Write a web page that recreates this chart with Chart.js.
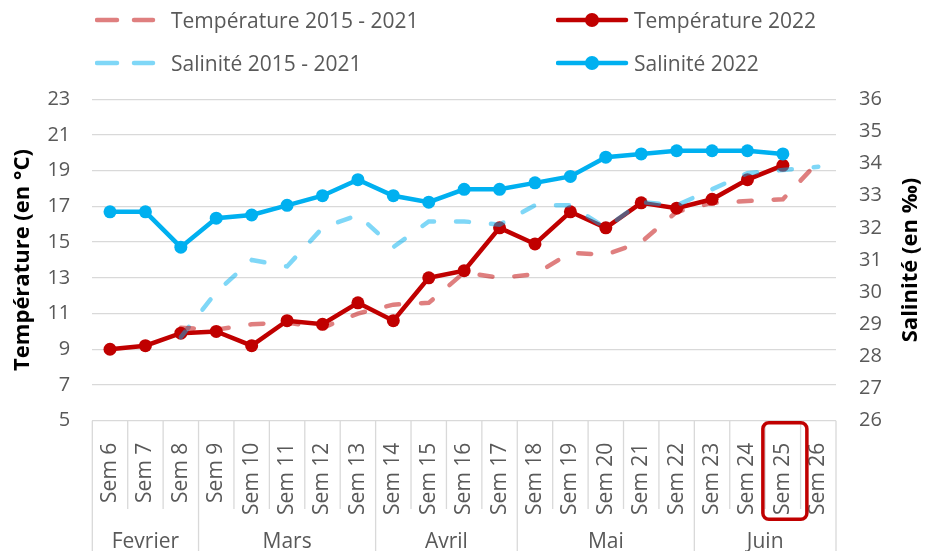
<!DOCTYPE html>
<html>
<head>
<meta charset="utf-8">
<script src="https://cdn.jsdelivr.net/npm/chart.js@4.4.0/dist/chart.umd.min.js"></script>
<style>
    html, body { margin: 0; padding: 0; background: #fff; }
    #wrap { position: relative; width: 934px; height: 551px; overflow: hidden; font-family: "Open Sans", sans-serif; }
    #box { position: absolute; left: 0; top: 0; width: 934px; height: 551px; }
    .item { position: absolute; display: flex; align-items: center; height: 30px; color: #595959; font-size: 21px; white-space: nowrap; }
</style>
</head>
<body>
<div id="wrap">
    <div id="box"><canvas id="chart"></canvas></div>
    <div id="legend"></div>
</div>
<script>
// Weeks and month groups
const weeks = ['Sem 6', 'Sem 7', 'Sem 8', 'Sem 9', 'Sem 10', 'Sem 11', 'Sem 12', 'Sem 13', 'Sem 14', 'Sem 15',
    'Sem 16', 'Sem 17', 'Sem 18', 'Sem 19', 'Sem 20', 'Sem 21', 'Sem 22', 'Sem 23', 'Sem 24', 'Sem 25', 'Sem 26'];
const months = ['Fevrier', 'Mars', 'Avril', 'Mai', 'Juin'];
const monthSpans = [3, 5, 4, 5, 4];
const highlightWeek = 'Sem 25';

// Series values
const temp2022 = [9.0, 9.2, 9.9, 10.0, 9.2, 10.6, 10.4, 11.6, 10.6, 13.0, 13.4, 15.8, 14.9, 16.7, 15.8, 17.2, 16.9, 17.4, 18.5, 19.3, null];
const sal2022 = [32.5, 32.5, 31.4, 32.3, 32.4, 32.7, 33.0, 33.5, 33.0, 32.8, 33.2, 33.2, 33.4, 33.6, 34.2, 34.3, 34.4, 34.4, 34.4, 34.3, null];
const tempRef = [null, null, 10.2, 10.1, 10.4, 10.5, 10.2, 11.0, 11.5, 11.6, 13.3, 13.0, 13.2, 14.4, 14.3, 15.0, 16.7, 17.2, 17.3, 17.4, 19.5];
const salRef = [null, null, 28.6, 30.0, 31.0, 30.8, 32.0, 32.4, 31.4, 32.2, 32.2, 32.1, 32.7, 32.7, 32.0, 32.8, 32.7, 33.2, 33.7, 33.8, 33.9];

// Axis ranges
const tempMin = 5, tempMax = 23, tempStep = 2;
const salMin = 26, salMax = 36, salStep = 1;

const RED = '#c00000';
const BLUE = '#00b0f0';
const RED_FADED = 'rgba(192, 0, 0, 0.5)';
const BLUE_FADED = 'rgba(0, 176, 240, 0.5)';
const GRID = '#d9d9d9';
const TEXT = '#595959';
const FONT = '"Open Sans", sans-serif';

const datasets = [
    {
        label: 'Température 2015 - 2021', data: tempRef, yAxisID: 'yT', order: 0,
        borderColor: RED_FADED, borderWidth: 4.5, borderDash: [13, 22], borderCapStyle: 'round',
        pointRadius: 0, tension: 0
    },
    {
        label: 'Salinité 2015 - 2021', data: salRef, yAxisID: 'yS', order: 0,
        borderColor: BLUE_FADED, borderWidth: 4.5, borderDash: [13, 22], borderCapStyle: 'round',
        pointRadius: 0, tension: 0
    },
    {
        label: 'Température 2022', data: temp2022, yAxisID: 'yT', order: 2,
        borderColor: RED, backgroundColor: RED, borderWidth: 4.5,
        pointRadius: 6.5, pointBorderWidth: 0, pointBackgroundColor: RED, tension: 0
    },
    {
        label: 'Salinité 2022', data: sal2022, yAxisID: 'yS', order: 1,
        borderColor: BLUE, backgroundColor: BLUE, borderWidth: 4.5,
        pointRadius: 6.5, pointBorderWidth: 0, pointBackgroundColor: BLUE, tension: 0
    }
];

// Category box under the plot, month groups, highlight and right title
const boxPlugin = {
    id: 'categoryBox',
    afterDraw(chart) {
        const ctx = chart.ctx;
        const x = chart.scales.x;
        const top = chart.chartArea.bottom;
        const w = x.getPixelForValue(1) - x.getPixelForValue(0);
        const left = x.getPixelForValue(0) - w / 2;

        const bounds = [0];
        monthSpans.reduce((acc, n) => { bounds.push(acc + n); return acc + n; }, 0);

        ctx.save();
        ctx.strokeStyle = GRID;
        ctx.lineWidth = 1.3;
        for (let k = 0; k <= weeks.length; k++) {
            const px = left + k * w;
            ctx.beginPath();
            ctx.moveTo(px, top);
            ctx.lineTo(px, bounds.includes(k) ? chart.height : top + 88.3);
            ctx.stroke();
        }

        // Month labels
        ctx.fillStyle = TEXT;
        ctx.font = '21px ' + FONT;
        ctx.textAlign = 'center';
        ctx.textBaseline = 'alphabetic';
        months.forEach((m, i) => {
            const cx = left + (bounds[i] + bounds[i + 1]) / 2 * w;
            ctx.fillText(m, cx, 547.5);
        });

        // Highlighted week
        const hi = weeks.indexOf(highlightWeek);
        const hx = x.getPixelForValue(hi);
        ctx.strokeStyle = RED;
        ctx.lineWidth = 3.5;
        ctx.beginPath();
        ctx.roundRect(hx - 20, top + 2, 44, 96.6, 6);
        ctx.stroke();

        // Right axis title, reading bottom to top
        ctx.fillStyle = '#000';
        ctx.font = 'bold 22px ' + FONT;
        ctx.translate(911, (chart.chartArea.top + chart.chartArea.bottom) / 2);
        ctx.rotate(-Math.PI / 2);
        ctx.textBaseline = 'middle';
        ctx.fillText('Salinité (en ‰)', 0, 0);
        ctx.restore();
    }
};

const ctx = document.getElementById('chart').getContext('2d');
const chart = new Chart(ctx, {
    type: 'line',
    data: { labels: weeks, datasets: datasets },
    options: {
        responsive: true,
        maintainAspectRatio: false,
        animation: false,
        layout: { padding: { top: 99.3, left: 0, right: 0, bottom: 0 } },
        plugins: { legend: { display: false }, tooltip: { enabled: false } },
        scales: {
            x: {
                type: 'category',
                offset: true,
                grid: { display: false, drawTicks: false },
                border: { display: false },
                ticks: {
                    autoSkip: false, minRotation: 90, maxRotation: 90, padding: 22,
                    color: TEXT, font: { family: FONT, size: 21 }
                },
                afterFit: s => { s.height = 130.3; }
            },
            yT: {
                position: 'left',
                min: tempMin, max: tempMax,
                ticks: { stepSize: tempStep, padding: 22, color: TEXT, font: { family: FONT, size: 20 } },
                grid: { color: GRID, lineWidth: 1.3, drawTicks: false },
                border: { display: false },
                title: {
                    display: true, text: 'Température (en °C)', color: '#000',
                    font: { family: FONT, size: 22, weight: 'bold' }, padding: { top: 10, bottom: 0 }
                },
                afterFit: s => { s.width = 92.3; }
            },
            yS: {
                position: 'right',
                min: salMin, max: salMax,
                ticks: { stepSize: salStep, padding: 23, color: TEXT, font: { family: FONT, size: 20 } },
                grid: { drawOnChartArea: false, drawTicks: false },
                border: { display: false },
                afterFit: s => { s.width = 98; }
            }
        }
    },
    plugins: [boxPlugin]
});

// Legend in two columns
const legendPos = [
    { left: 95, top: 5 },
    { left: 95, top: 48 },
    { left: 556, top: 5 },
    { left: 556, top: 48 }
];
const legend = document.getElementById('legend');
datasets.forEach((ds, i) => {
    const item = document.createElement('div');
    item.className = 'item';
    item.style.left = legendPos[i].left + 'px';
    item.style.top = legendPos[i].top + 'px';
    let svg;
    if (ds.borderDash) {
        svg = `<svg width="76" height="14" style="display:block"><line x1="2" y1="7" x2="58" y2="7" stroke="${ds.borderColor}" stroke-width="4.5" stroke-linecap="round" stroke-dasharray="20 17"/></svg>`;
    } else {
        svg = `<svg width="78" height="16" style="display:block"><line x1="2" y1="8" x2="70" y2="8" stroke="${ds.borderColor}" stroke-width="4.5" stroke-linecap="round"/><circle cx="36" cy="8" r="7" fill="${ds.borderColor}"/></svg>`;
    }
    item.innerHTML = svg + '<span>' + ds.label + '</span>';
    legend.appendChild(item);
});
</script>
</body>
</html>
